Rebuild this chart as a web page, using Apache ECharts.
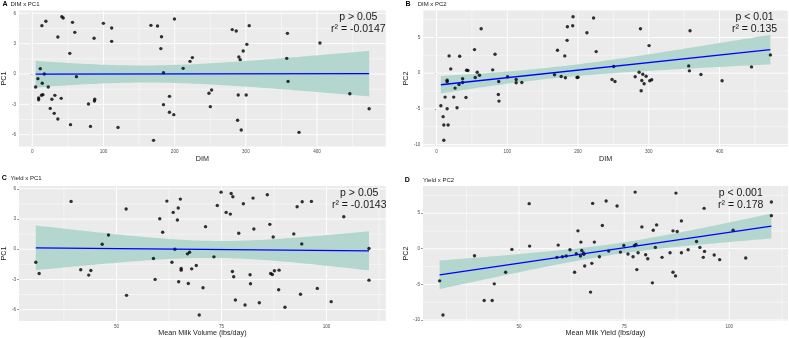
<!DOCTYPE html>
<html>
<head>
<meta charset="utf-8">
<script src="https://cdn.jsdelivr.net/npm/echarts@6/dist/echarts.min.js"></script>
<style>
  html, body { margin: 0; padding: 0; background: #fff; }
  #chart { width: 789px; height: 338px; }
</style>
</head>
<body>
<div id="chart"></div>
<script>
// A: DIM x PC1
const dimPc1X = [4.7, 7.9, 8.9, 8.9, 11.2, 13.5, 14, 14.9, 13, 16.8, 19.1, 22.4, 25.2, 27.5, 30.8, 31.7, 35.9, 35.9, 40.6, 41.5,
  43.4, 52.7, 53.7, 56.5, 59.7, 62, 78.9, 81.7, 86.8, 87.3, 87.7, 99.9, 111.5, 111.5, 120.4, 166.6, 175.9, 170.3, 181.5, 180.6,
  184.3, 184.3, 192.7, 192.7, 198.8, 199.7, 211.9, 221.6, 224.9, 248.2, 251.9, 250.1, 280.9, 286.5, 288.4, 289.3, 290.2, 292.1, 293.5, 296.3,
  300.5, 301.4, 304.7, 357.4, 358.4, 359.3, 374.7, 404.1, 446.1, 473.2];
const dimPc1Y = [-1.29, -0.46, -2.37, -2.54, 0.53, 4.78, -0.92, -2.04, -2.1, 0.0, 5.21, -1.29, -3.4, -2.5, -3.89, -2.11, 3.66, -4.45, -2.41, 5.67,
  5.54, 2.04, -5.01, 5.11, 4.12, -0.26, -2.97, -5.18, 3.53, -2.67, -2.5, 5.01, 4.55, 3.23, -5.28, 4.81, 4.75, -6.56, 3.69, 2.51,
  0.13, -3.03, -2.21, -3.79, -4.02, 5.44, 0.56, 1.25, 1.62, -1.91, -1.58, -3.23, 4.39, 4.25, -4.58, -2.08, 1.68, 1.42, -5.54, 2.27,
  -2.08, 2.93, 4.78, 1.55, 4.02, -0.73, -5.77, 3.07, -1.95, -3.43];

// B: DIM x PC2
const dimPc2X = [6.1, 9.3, 10.3, 10.3, 12.1, 15, 15, 15, 16.4, 17.8, 20.1, 24.3, 26.2, 29, 31.8, 32.7, 36.9, 36.9, 41.6, 42.5,
  44.4, 53.7, 54.7, 57.5, 60.7, 63.1, 79.4, 82.7, 87.4, 87.9, 88.3, 100.5, 112.6, 112.6, 120.6, 166.8, 171, 176.2, 181.3, 182.2,
  184.6, 185, 192.5, 193, 198.6, 200, 212.6, 222, 225.7, 248.1, 250.5, 252.3, 280.8, 286.4, 288.3, 289.3, 290.2, 291.6, 293.5, 296.3,
  300.5, 301.4, 304.2, 356.5, 357.5, 358.4, 373.8, 403.7, 445.3, 472];
const dimPc2Y = [-4.56, -6.09, -7.26, -9.4, -3.35, -0.98, -1.21, -4.98, -7.26, 2.42, 0.6, -3.35, -2.09, -4.84, -1.58, 2.37, -0.79, -1.3, -3.4, 0.42,
  0.37, 3.3, -0.6, 0.14, -0.28, 6.23, 0.47, 2.65, -2.98, -1.16, -3.91, -0.51, -0.88, -1.35, -1.3, -0.23, 3.21, -0.47, 2.42, -0.65,
  4.6, 6.51, 6.65, 7.91, -0.6, -0.56, 5.67, 7.72, 3.02, -0.88, 0.93, -1.16, -0.51, 0.14, 6.23, -2.47, -1.02, -0.14, -1.49, -0.42,
  3.86, -1.07, -0.93, 1.02, 0.33, 5.95, -0.19, -1.07, 0.88, 2.56];

// C: Yield x PC1
const yieldPc1X = [30.8, 31.6, 39.2, 41.5, 43.4, 43.9, 46.6, 48.1, 52.3, 52.4, 58.8, 59.2, 60.3, 61, 62, 63.2, 63.5, 63.9, 64.5, 64.7,
  64.8, 65.2, 65.4, 65.4, 66.9, 67.1, 67.4, 67.9, 69, 69.7, 70.6, 71.2, 73.2, 74, 74.9, 76.1, 77.1, 77.3, 77.7, 77.6,
  77.9, 78.3, 79.1, 80.2, 80.6, 81.8, 81.9, 82.5, 82.7, 84, 85.9, 86.5, 86.7, 87.1, 87.3, 87.6, 88.6, 88.7, 90.1, 92.2,
  93, 93.8, 94.2, 94.1, 96.4, 97.8, 101.1, 104.1, 110.1, 110.1];
const yieldPc1Y = [-1.29, -2.41, 4.75, -2.04, -2.57, -2.11, 0.49, 1.42, 3.99, -4.58, -0.92, -3.0, 3.03, 1.68, 4.78, -1.29, 3.66, 0, 2.9, 4.09,
  -3.23, 4.98, -1.91, -2.08, -0.46, -3.4, -0.3, -1.95, -1.62, -6.53, -3.82, 2.24, -0.76, 4.35, 5.67, 3.66, 3.49, 5.54, 5.21, -2.21,
  -2.74, -5.04, 1.58, 4.52, -5.54, -2.54, -3.43, 5.08, 2.01, -5.31, 5.41, 2.47, -2.41, -2.51, 1.22, -2.14, -4.02, -2.08, -5.77, 1.52,
  4.22, -4.48, 4.71, 0.53, 4.75, -3.89, -5.21, 3.23, 0.07, -3.07];

// D: Yield x PC2
const yieldPc2X = [31.1, 31.9, 39.4, 41.7, 43.6, 44.1, 46.8, 48.3, 52.4, 52.5, 59, 59.3, 60.3, 61.2, 62.1, 63.2, 63.6, 64, 64.6, 64.7,
  64.9, 65.3, 65.4, 65.6, 67, 67.3, 67.5, 67.9, 69.1, 69.8, 70.7, 71.3, 73.3, 74.1, 74.9, 75.9, 77.1, 77.4, 77.6, 77.8,
  78, 78.3, 79.2, 80.1, 80.6, 81.7, 81.9, 82.4, 82.7, 84, 85.9, 86.6, 86.6, 87.2, 87.3, 87.6, 88.6, 88.6, 90.2, 92.2,
  93, 93.8, 94, 94.1, 96.4, 97.7, 100.9, 103.9, 110, 110];
const yieldPc2Y = [-4.51, -9.3, -0.98, -7.26, -7.26, -4.93, -3.3, -0.09, 6.33, 0.37, -1.21, 0.51, -1.12, -1.02, -0.14, -3.3, -0.7, 2.51, -1.02, 0.93,
  -0.23, -0.6, -0.79, -2.42, -6.09, -2.05, 6.37, 0.93, -1.12, 3.26, 6.7, -0.33, 6.0, -0.47, 0.47, -0.74, -1.12, 0.42, 7.95, 0.6,
  -2.93, -0.56, 3.07, -0.84, -1.4, -4.79, 2.6, 0.19, 3.35, -1.21, -0.56, 2.51, -3.3, -3.81, 7.81, 2.42, 3.91, -0.56, -0.14, 1.02,
  0.19, -1.21, 5.67, -0.37, -0.88, -1.53, 2.6, -1.3, 6.56, 4.65];

// tick values
const dimTicks = [0, 100, 200, 300, 400];
const dimMinor = [50, 150, 250, 350, 450];
const yieldTicks = [50, 75, 100];
const yieldMinor = [37.5, 62.5, 87.5, 112.5];
const pc1Ticks = [-6, -3, 0, 3, 6];
const pc1Minor = [-4.5, -1.5, 1.5, 4.5];
const pc2Ticks = [-10, -5, 0, 5];
const pc2Minor = [-7.5, -2.5, 2.5, 7.5];

// annotation texts
const statsA = ['p > 0.05', 'r\u00b2 = -0.0147'];
const statsB = ['p < 0.01', 'r\u00b2 = 0.135'];
const statsC = ['p > 0.05', 'r\u00b2 = -0.0143'];
const statsD = ['p < 0.001', 'r\u00b2 = 0.178'];

const FONT = '"Liberation Sans", Arial, Helvetica, sans-serif';

// lm fit + 95% confidence band, like geom_smooth(method = "lm")
function lmBand(xs, ys, steps) {
  const n = xs.length;
  const mx = xs.reduce((a, b) => a + b, 0) / n;
  const my = ys.reduce((a, b) => a + b, 0) / n;
  let sxx = 0, sxy = 0;
  for (let i = 0; i < n; i++) {
    sxx += (xs[i] - mx) * (xs[i] - mx);
    sxy += (xs[i] - mx) * (ys[i] - my);
  }
  const b = sxy / sxx;
  const a = my - b * mx;
  let sse = 0;
  for (let i = 0; i < n; i++) sse += Math.pow(ys[i] - a - b * xs[i], 2);
  const s = Math.sqrt(sse / (n - 2));
  const t = 1.995;
  const x0 = Math.min(...xs), x1 = Math.max(...xs);
  const band = [];
  for (let k = 0; k <= steps; k++) {
    const x = x0 + (x1 - x0) * k / steps;
    const yh = a + b * x;
    const se = s * Math.sqrt(1 / n + (x - mx) * (x - mx) / sxx);
    band.push([x, yh - t * se, yh + t * se]);
  }
  return { line: [[x0, a + b * x0], [x1, a + b * x1]], band: band };
}

const panels = [
  { xs: dimPc1X, ys: dimPc1Y, grid: { left: 17.3, top: 10.5, width: 368.5, height: 136 },
    xRange: [-18.7, 496.6], yRange: [-7.17, 6.28], xTicks: dimTicks, xMinor: dimMinor, yTicks: pc1Ticks, yMinor: pc1Minor,
    xName: 'DIM', yName: 'PC1', letter: 'A', title: 'DIM x PC1', letterPos: [2.5, 4.5], titlePos: [10.5, 4.5],
    stats: statsA, statsPos: [358.3, 17, 29] },
  { xs: dimPc2X, ys: dimPc2Y, grid: { left: 423.3, top: 10.5, width: 364.5, height: 136 },
    xRange: [-18.7, 496.6], yRange: [-10.27, 8.78], xTicks: dimTicks, xMinor: dimMinor, yTicks: pc2Ticks, yMinor: pc2Minor,
    xName: 'DIM', yName: 'PC2', letter: 'B', title: 'DIM x PC2', letterPos: [405.5, 4.5], titlePos: [417.7, 4.5],
    stats: statsB, statsPos: [754.5, 16.7, 28.8] },
  { xs: yieldPc1X, ys: yieldPc1Y, grid: { left: 17.3, top: 186, width: 368.5, height: 136 },
    xRange: [26.8, 114.1], yRange: [-7.14, 6.28], xTicks: yieldTicks, xMinor: yieldMinor, yTicks: pc1Ticks, yMinor: pc1Minor,
    xName: 'Mean Milk Volume (lbs/day)', yName: 'PC1', letter: 'C', title: 'Yield x PC1', letterPos: [1.8, 178.5], titlePos: [10.5, 178],
    stats: statsC, statsPos: [359.2, 193.2, 205] },
  { xs: yieldPc2X, ys: yieldPc2Y, grid: { left: 423, top: 186, width: 365, height: 136 },
    xRange: [27.15, 113.95], yRange: [-10.16, 8.81], xTicks: yieldTicks, xMinor: yieldMinor, yTicks: pc2Ticks, yMinor: pc2Minor,
    xName: 'Mean Milk Yield (lbs/day)', yName: 'PC2', letter: 'D', title: 'Yield x PC2', letterPos: [404.8, 180], titlePos: [423, 180],
    stats: statsD, statsPos: [740.7, 193, 205] }
];

const grids = [], xAxes = [], yAxes = [], series = [], graphics = [];

panels.forEach((p, i) => {
  grids.push(Object.assign({ show: true, backgroundColor: '#ebebeb', borderWidth: 0 }, p.grid));

  const tickStyle = { show: true, length: 2, lineStyle: { color: '#333', width: 0.5 } };
  const labelStyle = { fontSize: 4.6, color: '#4d4d4d', fontFamily: FONT };
  xAxes.push({
    gridIndex: i, type: 'value', min: p.xRange[0], max: p.xRange[1],
    axisLine: { show: false }, splitLine: { show: false },
    axisTick: Object.assign({ customValues: p.xTicks }, tickStyle),
    axisLabel: Object.assign({ customValues: p.xTicks, margin: 3 }, labelStyle),
    name: p.xName, nameLocation: 'middle', nameGap: 7.5,
    nameTextStyle: { fontSize: 7.2, color: '#1a1a1a', fontFamily: FONT }
  });
  yAxes.push({
    gridIndex: i, type: 'value', min: p.yRange[0], max: p.yRange[1],
    axisLine: { show: false }, splitLine: { show: false },
    axisTick: Object.assign({ customValues: p.yTicks }, tickStyle),
    axisLabel: Object.assign({ customValues: p.yTicks, margin: 3 }, labelStyle),
    name: p.yName, nameLocation: 'middle', nameGap: p.yTicks === pc2Ticks ? 11 : 9.5,
    nameTextStyle: { fontSize: 7.2, color: '#1a1a1a', fontFamily: FONT }
  });

  // grid lines (major + minor), ggplot style
  const lines = [];
  p.xMinor.forEach(v => lines.push([v, 0, 0]));
  p.yMinor.forEach(v => lines.push([v, 1, 0]));
  p.xTicks.forEach(v => lines.push([v, 0, 1]));
  p.yTicks.forEach(v => lines.push([v, 1, 1]));
  series.push({
    type: 'custom', xAxisIndex: i, yAxisIndex: i, silent: true, clip: true, z: 1,
    data: lines.map(l => ({ value: l })),
    encode: { x: -1, y: -1 },
    renderItem: function (params, api) {
      const v = api.value(0), vertical = api.value(1) === 0, major = api.value(2) === 1;
      let a, b;
      if (vertical) { a = api.coord([v, p.yRange[0]]); b = api.coord([v, p.yRange[1]]); }
      else { a = api.coord([p.xRange[0], v]); b = api.coord([p.xRange[1], v]); }
      return {
        type: 'line',
        shape: { x1: a[0], y1: a[1], x2: b[0], y2: b[1] },
        style: { stroke: '#ffffff', lineWidth: major ? 0.9 : 0.45 }
      };
    }
  });

  const fit = lmBand(p.xs, p.ys, 80);
  // confidence ribbon
  series.push({
    type: 'custom', xAxisIndex: i, yAxisIndex: i, silent: true, clip: true, z: 2,
    data: [{ value: [fit.band[0][0], fit.band[0][1]] }],
    renderItem: function (params, api) {
      const pts = [];
      fit.band.forEach(b => pts.push(api.coord([b[0], b[2]])));
      for (let k = fit.band.length - 1; k >= 0; k--) pts.push(api.coord([fit.band[k][0], fit.band[k][1]]));
      return { type: 'polygon', shape: { points: pts }, style: { fill: '#b3d6cf' } };
    }
  });
  // points
  series.push({
    type: 'scatter', xAxisIndex: i, yAxisIndex: i, z: 3, silent: true,
    symbolSize: 3.4, itemStyle: { color: '#000' },
    data: p.xs.map((x, k) => [x, p.ys[k]])
  });
  // fitted line
  series.push({
    type: 'line', xAxisIndex: i, yAxisIndex: i, z: 4, silent: true,
    symbol: 'none', lineStyle: { color: '#0000ff', width: 1.3 },
    data: fit.line
  });

  graphics.push({ type: 'text', x: p.letterPos[0], y: p.letterPos[1],
    style: { text: p.letter, font: 'bold 7px ' + FONT, fill: '#000', align: 'left', verticalAlign: 'middle', textAlign: 'left', textVerticalAlign: 'middle' } });
  graphics.push({ type: 'text', x: p.titlePos[0], y: p.titlePos[1],
    style: { text: p.title, font: '6px ' + FONT, fill: '#1a1a1a', align: 'left', verticalAlign: 'middle', textAlign: 'left', textVerticalAlign: 'middle' } });
  p.stats.forEach((s, k) => {
    graphics.push({ type: 'text', x: p.statsPos[0], y: p.statsPos[1 + k], z: 100,
      style: { text: s, font: '10.5px ' + FONT, fill: '#1a1a1a', align: 'center', verticalAlign: 'middle', textAlign: 'center', textVerticalAlign: 'middle' } });
  });
});

const chart = echarts.init(document.getElementById('chart'), null, { renderer: 'canvas' });
chart.setOption({
  backgroundColor: '#ffffff',
  animation: false,
  grid: grids,
  xAxis: xAxes,
  yAxis: yAxes,
  series: series,
  graphic: graphics
});
</script>
</body>
</html>
